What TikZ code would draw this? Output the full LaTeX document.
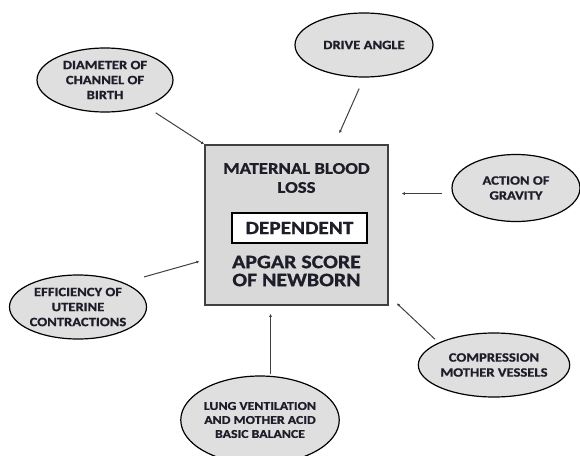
\documentclass[tikz,border=0pt]{standalone}
\usepackage{fontspec}
\setmainfont{Carlito}[FakeStretch=1.15, FakeBold=1]
\usetikzlibrary{arrows.meta, positioning, shapes.geometric, calc}
\definecolor{boxgray}{RGB}{217,217,217}
\definecolor{ovalgray}{RGB}{223,223,223}
\definecolor{inkdark}{RGB}{30,30,42}

\begin{document}
\begin{tikzpicture}[
  x=1pt, y=-1pt,
  every node/.style={font=\bfseries, text=inkdark},
  factor/.style={ellipse, draw=black, line width=1.2pt, fill=ovalgray, minimum width=136pt, minimum height=64pt, align=center, inner sep=0pt, font=\bfseries\fontsize{12.7}{15}\selectfont},
  outcome/.style={draw=black!75, line width=1.6pt, fill=boxgray, minimum width=183pt, minimum height=160pt},
  tag/.style={draw=black, line width=1.6pt, fill=white, minimum width=135pt, minimum height=30pt, font=\bfseries\fontsize{18.5}{20}\selectfont},
  title/.style={align=center, font=\bfseries\fontsize{16.3}{19}\selectfont},
  arrow/.style={-{Latex[length=3pt, width=3pt]}, line width=1pt, color=black!75}
]
  \useasboundingbox (0,0) rectangle (580,455);

  % Centre
  \node[outcome] (main) at (296.5, 225) {};
  \node[title] (loss) at (296.5, 178) {MATERNAL BLOOD\\LOSS};
  \node[tag] (dep) at (299.5, 228) {DEPENDENT};
  \node[title, font=\bfseries\fontsize{19}{18}\selectfont] (apgar) at (296.5, 271) {APGAR SCORE\\OF NEWBORN};

  % Factors
  \node[factor] (diam) at (105, 80) {DIAMETER OF\\CHANNEL OF\\BIRTH};
  \node[factor, minimum width=138pt] (drive) at (364, 45) {DRIVE ANGLE};
  \node[factor, minimum width=128pt, minimum height=67pt] (grav) at (516, 188) {ACTION OF\\GRAVITY};
  \node[factor, minimum width=137pt] (eff) at (78, 307) {EFFICIENCY OF\\UTERINE\\CONTRACTIONS};
  \node[factor, minimum width=154pt, minimum height=88pt, font=\bfseries\fontsize{12}{14}\selectfont] (lung) at (260, 420) {LUNG VENTILATION\\AND MOTHER ACID\\BASIC BALANCE};
  \node[factor, minimum width=138pt] (comp) at (494, 365) {COMPRESSION\\MOTHER VESSELS};

  \coordinate (lungtip) at ($(main.south)+(-26,0)$);

  \draw[arrow, shorten <=12pt] (diam) -- (main.north west);
  \draw[arrow, shorten <=12pt, shorten >=12pt] (drive.south) -- ($(main.north)+(38,0)$);
  \draw[arrow, shorten <=10pt, shorten >=13pt] (grav.185) -- (grav.185 -| main.east);
  \draw[arrow, shorten <=21pt, shorten >=5pt] (eff.28) -- ($(main.west)+(0,35)$);
  \draw[arrow, shorten <=1pt, shorten >=8pt] (lung.north -| lungtip) -- (lungtip);
  \draw[arrow, shorten <=5pt, shorten >=11pt] (comp.158) -- ($(main.south east)+(0,-10)$);

\end{tikzpicture}
\end{document}
